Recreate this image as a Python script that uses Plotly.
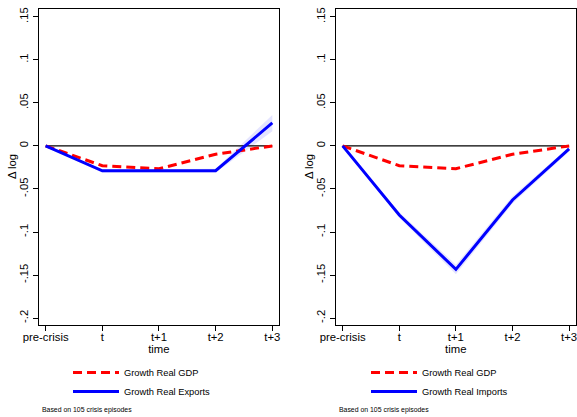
import plotly.graph_objects as go

# Periods around the crisis
periods = ["pre-crisis", "t", "t+1", "t+2", "t+3"]
xpos = [0, 1, 2, 3, 4]

# Cumulative change in log levels relative to pre-crisis
gdp = [0.0, -0.023, -0.0265, -0.0097, 0.0]
exports = [0.0, -0.029, -0.029, -0.0288, 0.0267]
exports_lo = [0.0, -0.031, -0.031, -0.031, 0.017]
exports_hi = [0.0, -0.027, -0.027, -0.0265, 0.036]
imports = [0.0, -0.0802, -0.1434, -0.0628, -0.0035]
imports_lo = [0.0, -0.0835, -0.1490, -0.0670, -0.0065]
imports_hi = [0.0, -0.0770, -0.1380, -0.0585, -0.0010]

ytick_vals = [-0.2, -0.15, -0.1, -0.05, 0, 0.05, 0.1, 0.15]
ytick_text = ["-.2", "-.15", "-.1", "-.05", "0", ".05", ".1", ".15"]

W, H = 577, 417
FONT = "Liberation Sans, Arial, sans-serif"
RED = "#FF0000"
BLUE = "#0000FF"
BAND = "rgba(205,205,255,0.55)"

fig = go.Figure()

panels = [
    ("x", "y", "legend", "Growth Real Exports", exports, exports_lo, exports_hi),
    ("x2", "y2", "legend2", "Growth Real Imports", imports, imports_lo, imports_hi),
]

for xa, ya, lg, name, vals, lo, hi in panels:
    # confidence band
    fig.add_trace(go.Scatter(x=xpos, y=hi, xaxis=xa, yaxis=ya, mode="lines",
                             line=dict(width=0, color=BAND), showlegend=False,
                             hoverinfo="skip"))
    fig.add_trace(go.Scatter(x=xpos, y=lo, xaxis=xa, yaxis=ya, mode="lines",
                             line=dict(width=0, color=BAND), fill="tonexty",
                             fillcolor=BAND, showlegend=False, hoverinfo="skip"))
    # zero reference line
    fig.add_trace(go.Scatter(x=[xpos[0], xpos[-1]], y=[0, 0], xaxis=xa, yaxis=ya,
                             mode="lines", line=dict(color="black", width=1.2),
                             showlegend=False, hoverinfo="skip"))
    fig.add_trace(go.Scatter(x=xpos, y=gdp, xaxis=xa, yaxis=ya, mode="lines",
                             name="Growth Real GDP", legend=lg,
                             line=dict(color=RED, width=3, dash="9px,5px")))
    fig.add_trace(go.Scatter(x=xpos, y=vals, xaxis=xa, yaxis=ya, mode="lines",
                             name=name, legend=lg,
                             line=dict(color=BLUE, width=3)))

def px_x(p):
    return p / W

def px_y(p):
    return 1 - p / H

axis_common = dict(
    showline=True, linecolor="black", linewidth=1.2, mirror=True,
    ticks="outside", ticklen=5, tickwidth=1.2, tickcolor="black",
    showgrid=False, zeroline=False, automargin=False,
    ticklabeloverflow="allow",
    tickfont=dict(family=FONT, size=11.3, color="black"),
)

xaxis_common = dict(axis_common, tickvals=xpos, ticktext=periods,
                    range=[-0.123, 4.118], ticklabelstandoff=-4,
                    title=dict(text="time", standoff=1,
                               font=dict(family=FONT, size=11.3, color="black")))
yaxis_common = dict(axis_common, tickvals=ytick_vals, ticktext=ytick_text,
                    range=[-0.208, 0.159], tickangle=-90)

legend_common = dict(xanchor="left", yanchor="top", bgcolor="rgba(0,0,0,0)",
                     itemwidth=46, traceorder="normal",
                     font=dict(family=FONT, size=9.3, color="black"))

PLOT_TOP, PLOT_BOTTOM = 9, 325
notes = []
# rotated y-axis titles and footnotes for both panels
for left in [0, 297]:
    notes.append(dict(text="Δ log", x=px_x(left + 12), y=px_y((PLOT_TOP + PLOT_BOTTOM) / 2),
                      xref="paper", yref="paper", xanchor="center", yanchor="middle",
                      textangle=-90, showarrow=False,
                      font=dict(family=FONT, size=11.3, color="black")))
    notes.append(dict(text="Based on 105 crisis episodes", x=px_x(left + 40), y=px_y(410),
                      xref="paper", yref="paper", xanchor="left", yanchor="middle",
                      showarrow=False, font=dict(family=FONT, size=6.9, color="black")))

fig.update_layout(
    width=W, height=H, autosize=False,
    margin=dict(l=0, r=0, t=0, b=0),
    paper_bgcolor="white", plot_bgcolor="white",
    font=dict(family=FONT, color="black"),
    xaxis=dict(xaxis_common, domain=[px_x(38.7), px_x(279)], anchor="y"),
    yaxis=dict(yaxis_common, domain=[px_y(PLOT_BOTTOM), px_y(PLOT_TOP)], anchor="x"),
    xaxis2=dict(xaxis_common, domain=[px_x(335.7), px_x(575.8)], anchor="y2"),
    yaxis2=dict(yaxis_common, domain=[px_y(PLOT_BOTTOM), px_y(PLOT_TOP)], anchor="x2"),
    legend=dict(legend_common, x=px_x(68), y=px_y(358)),
    legend2=dict(legend_common, x=px_x(366), y=px_y(358)),
    annotations=notes,
)

fig.write_html("out.html")
